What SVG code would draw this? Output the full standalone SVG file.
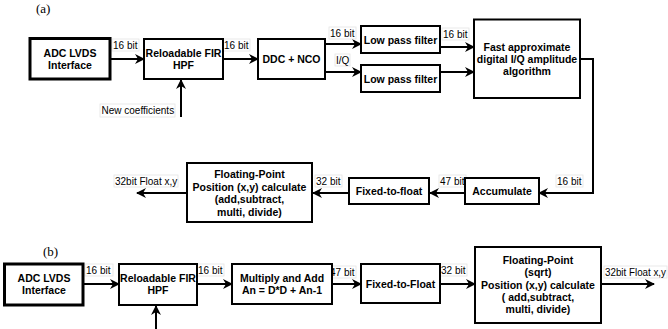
<svg xmlns="http://www.w3.org/2000/svg" width="668" height="329" viewBox="0 0 668 329">
<defs>
<marker id="ah" viewBox="0 0 10 10" refX="9" refY="5" markerWidth="10" markerHeight="10" markerUnits="userSpaceOnUse" orient="auto">
<path d="M0,0 L10,5 L0,10 L3,5 z" fill="#000"/>
</marker>
<style>
.b{fill:#fff;stroke:#000;stroke-width:2}
.bt{fill:#fff;stroke:#000;stroke-width:3}
.t{font-family:"Liberation Sans",Arial,sans-serif;font-weight:bold;font-size:10.5px;text-anchor:middle;fill:#000}
.l{font-family:"Liberation Sans",Arial,sans-serif;font-size:10px;fill:#000}
.lb{fill:#fff;stroke:#e4e4e4;stroke-width:0.8}
.c{fill:none;stroke:#000;stroke-width:2;marker-end:url(#ah)}
.p{font-family:"Liberation Serif","Times New Roman",serif;font-size:13px;fill:#000}
</style>
</defs>
<rect width="668" height="329" fill="#fff"/>
<text class="p" x="36" y="13">(a)</text>
<text class="p" x="43" y="256">(b)</text>

<g id="connectors">
<path class="c" d="M110,59 L144,59"/>
<path class="c" d="M223,59 L258,59"/>
<path class="c" d="M181,117 L181,80"/>
<path class="c" d="M325,44 L361,44"/>
<path class="c" d="M325,72 L361,72"/>
<path class="c" d="M440,47 L474,47"/>
<path class="c" d="M440,72 L474,72"/>
<path class="c" d="M580,59 L593,59 L593,193 L539,193"/>
<path class="c" d="M465,193 L430,193"/>
<path class="c" d="M349,193 L313,193"/>
<path class="c" d="M187,193 L137,193"/>
<path class="c" d="M83,284 L119,284"/>
<path class="c" d="M197,284 L232,284"/>
<path class="c" d="M156,329 L156,306"/>
<path class="c" d="M332,284 L361,284"/>
<path class="c" d="M440,284 L475,284"/>
<path class="c" d="M601,284 L654,284"/>
</g>

<g id="labels">
<rect class="lb" x="112" y="39" width="27" height="12"/><text class="l" x="113" y="48.5">16 bit</text>
<rect class="lb" x="223" y="39" width="27" height="12"/><text class="l" x="224" y="48.5">16 bit</text>
<rect class="lb" x="100" y="104" width="75" height="13"/><text class="l" x="101.5" y="114">New coefficients</text>
<rect class="lb" x="329" y="27" width="27" height="12"/><text class="l" x="330" y="36.5">16 bit</text>
<rect class="lb" x="335" y="54" width="15" height="12"/><text class="l" x="336" y="63.5">I/Q</text>
<rect class="lb" x="442" y="28" width="27" height="12"/><text class="l" x="443" y="37.5">16 bit</text>
<rect class="lb" x="556" y="175" width="27" height="12"/><text class="l" x="557" y="184.5">16 bit</text>
<rect class="lb" x="439" y="175" width="27" height="12"/><text class="l" x="440" y="184.5">47 bit</text>
<rect class="lb" x="315" y="175" width="27" height="12"/><text class="l" x="316" y="184.5">32 bit</text>
<rect class="lb" x="114" y="175" width="64" height="12"/><text class="l" x="115" y="184.5">32bit Float x,y</text>
<rect class="lb" x="85" y="264" width="28" height="12"/><text class="l" x="86" y="273.5">16 bit</text>
<rect class="lb" x="197" y="264" width="27" height="12"/><text class="l" x="198" y="273.5">16 bit</text>
<rect class="lb" x="329" y="266" width="27" height="12"/><text class="l" x="330" y="275.5">47 bit</text>
<rect class="lb" x="440" y="264" width="27" height="12"/><text class="l" x="441" y="273.5">32 bit</text>
<rect class="lb" x="604" y="266" width="63" height="12"/><text class="l" x="605" y="275.5" textLength="61" lengthAdjust="spacingAndGlyphs">32bit Float x,y</text>
</g>

<g id="a_adc"><rect class="bt" x="30" y="38.5" width="80" height="40.5"/>
<text class="t" x="70" y="57">ADC LVDS</text><text class="t" x="70" y="69">Interface</text></g>
<g id="a_fir"><rect class="b" x="144" y="39" width="79" height="40"/>
<text class="t" x="183.5" y="57">Reloadable FIR</text><text class="t" x="183.5" y="69">HPF</text></g>
<g id="a_ddc"><rect class="b" x="258" y="39" width="67" height="40"/>
<text class="t" x="291.5" y="63">DDC + NCO</text></g>
<g id="a_lpf1"><rect class="b" x="361" y="26" width="79" height="27"/>
<text class="t" x="400.5" y="44">Low pass filter</text></g>
<g id="a_lpf2"><rect class="b" x="361" y="65" width="79" height="27"/>
<text class="t" x="400.5" y="83">Low pass filter</text></g>
<g id="a_fast"><rect class="b" x="474" y="19.5" width="106" height="78.5"/>
<text class="t" x="527" y="51">Fast approximate</text><text class="t" x="527" y="63">digital I/Q amplitude</text><text class="t" x="527" y="75">algorithm</text></g>
<g id="a_acc"><rect class="b" x="465" y="178" width="74" height="26"/>
<text class="t" x="502" y="195">Accumulate</text></g>
<g id="a_f2f"><rect class="b" x="349" y="178" width="80" height="26"/>
<text class="t" x="389" y="195">Fixed-to-float</text></g>
<g id="a_fp"><rect class="b" x="187" y="163" width="125" height="59"/>
<text class="t" x="249.5" y="178">Floating-Point</text><text class="t" x="249.5" y="190.5">Position (x,y) calculate</text><text class="t" x="249.5" y="203">(add,subtract,</text><text class="t" x="249.5" y="215.5">multi, divide)</text></g>

<g id="b_adc"><rect class="bt" x="4.5" y="264" width="78.5" height="41"/>
<text class="t" x="44" y="282">ADC LVDS</text><text class="t" x="44" y="294">Interface</text></g>
<g id="b_fir"><rect class="b" x="119" y="264" width="78" height="41"/>
<text class="t" x="158" y="282">Reloadable FIR</text><text class="t" x="158" y="294">HPF</text></g>
<g id="b_mac"><rect class="b" x="232" y="264" width="100" height="40"/>
<text class="t" x="282" y="282">Multiply and Add</text><text class="t" x="282" y="294">An = D*D + An-1</text></g>
<g id="b_f2f"><rect class="b" x="361" y="264" width="79" height="39"/>
<text class="t" x="400.5" y="288">Fixed-to-Float</text></g>
<g id="b_fp"><rect class="b" x="475" y="247" width="126" height="76"/>
<text class="t" x="538" y="264">Floating-Point</text><text class="t" x="538" y="276.3">(sqrt)</text><text class="t" x="538" y="288.6">Position (x,y) calculate</text><text class="t" x="538" y="300.9">( add,subtract,</text><text class="t" x="538" y="313.2">multi, divide)</text></g>
</svg>
